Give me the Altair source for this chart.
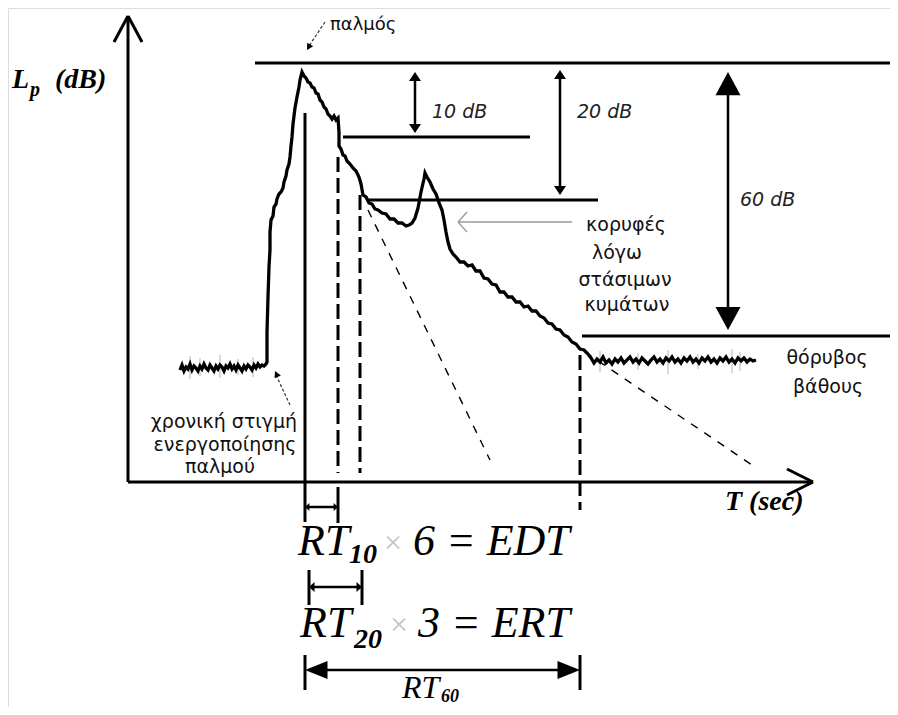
import altair as alt
import pandas as pd

# ---------------- echogram trace (time units from the axes' corner, level units) ----------------
noise_before_time = [52, 54, 56, 58, 60, 62, 64, 66, 68, 70, 72, 74, 76, 78, 80, 82, 84, 86, 88, 90,
                     92, 94, 96, 98, 100, 102, 104, 106, 108, 110, 112, 114, 116, 118, 120, 122, 124,
                     126, 128, 130, 132, 134, 136, 138]
noise_before_level = [112, 117, 111, 115, 113, 118, 112, 116, 114, 111, 116, 113, 118, 114, 112, 117,
                      114, 111, 116, 113, 117, 115, 111, 116, 114, 118, 113, 116, 112, 117, 114, 111,
                      116, 113, 117, 115, 112, 117, 114, 118, 115, 117, 116, 118]
rise_time = [139, 139, 140, 141, 142, 142, 143, 145, 146, 148, 149, 151, 153, 155, 156, 158, 159, 161,
             162, 163, 164, 165, 166, 167, 169, 171, 172, 174]
rise_level = [120, 150, 185, 215, 232, 250, 262, 266, 275, 278, 283, 288, 290, 294, 300, 306, 312, 318,
              325, 336, 345, 358, 366, 374, 385, 395, 402, 410]
decay_time = [176, 178, 180, 182, 184, 186, 188, 190, 192, 194, 196, 198, 200, 202, 204, 206, 208, 210,
              211, 211, 213, 215, 217, 219, 222, 225, 228, 231, 233, 235, 238, 241, 244, 247, 250, 254,
              258, 262, 266, 270, 274, 278, 281, 284, 287, 290, 293, 296, 297, 299, 302, 305, 308, 311,
              314, 316, 318, 320, 322, 325, 328, 332, 336, 340, 344, 348, 352, 356, 360, 364, 368, 372,
              376, 380, 384, 388, 392, 396, 400, 404, 408, 412, 416, 420, 424, 428, 432, 436, 440, 444,
              448, 452, 456, 460]
decay_level = [406, 404, 400, 399, 395, 394, 389, 388, 382, 380, 375, 373, 368, 366, 363, 366, 362, 364,
               350, 336, 333, 327, 326, 321, 318, 314, 311, 305, 298, 287, 285, 279, 278, 273, 272, 269,
               268, 263, 263, 259, 259, 256, 257, 259, 264, 274, 290, 303, 309, 305, 300, 293, 288, 279,
               272, 262, 250, 240, 233, 228, 225, 220, 220, 216, 217, 211, 211, 204, 203, 198, 197, 190,
               190, 185, 185, 180, 180, 175, 176, 171, 171, 166, 164, 159, 158, 153, 152, 147, 145, 140,
               138, 133, 132, 128]
noise_after_time = [463, 466, 469, 472, 475, 478, 481, 484, 487, 490, 493, 496, 499, 502, 505, 508, 511,
                    514, 517, 520, 523, 526, 529, 532, 535, 538, 541, 544, 547, 550, 553, 556, 559, 562,
                    565, 568, 571, 574, 577, 580, 583, 586, 589, 592, 595, 598, 601, 604, 607, 610, 613,
                    616, 619, 622, 625, 628]
noise_after_level = [124, 119, 123, 120, 125, 119, 122, 118, 123, 120, 124, 119, 122, 125, 120, 123, 119,
                     124, 121, 118, 122, 125, 120, 123, 119, 124, 121, 125, 120, 123, 119, 124, 121, 125,
                     120, 123, 119, 124, 121, 125, 120, 123, 119, 124, 121, 125, 120, 123, 119, 124, 121,
                     124, 120, 123, 121, 122]

# gray spikes in the noise
spike_time = [62, 72, 92, 110, 125, 472, 510, 540, 570, 604, 612]
spike_low = [103, 106, 104, 107, 105, 110, 112, 108, 113, 109, 111]
spike_high = [126, 124, 127, 123, 125, 131, 129, 132, 128, 133, 130]

# ---------------- axes and reference lines ----------------
solid_t1 = [0, 0, 0, 0, 685, 685, 127, 215, 240, 454, 177, 210, 181, 234, 177, 452]
solid_L1 = [0, 0, 466, 466, 0, 0, 419, 345, 282, 146, 369, -5, -88, -88, -173, -173]
solid_t2 = [0, 685, -14, 14, 659, 659, 770, 402, 470, 770, 177, 210, 181, 234, 177, 452]
solid_L2 = [466, 0, 440, 440, 13, -13, 419, 345, 282, 146, -40, -41, -123, -123, -208, -208]

# arrow shafts: 10 dB, 20 dB, 60 dB, RT10, RT20, RT60
shaft_t1 = [287, 432, 600, 179, 183, 185]
shaft_L1 = [405, 407, 395, -25, -105, -188]
shaft_t2 = [287, 432, 600, 208, 232, 444]
shaft_L2 = [354, 292, 165, -25, -105, -188]

# dashed verticals (RT10, RT20, RT60 read-off times)
vdash_t1 = [210, 232, 452]
vdash_L1 = [325, 287, 127]
vdash_t2 = [210, 232, 452]
vdash_L2 = [9, 9, -28]

# thin dashed extrapolations of the decay
diag_t1 = [240, 457]
diag_L1 = [272, 130]
diag_t2 = [362, 627]
diag_L2 = [22, 15]

# thin annotation pointers
pointer_t1 = [444, 330, 330, 197, 162]
pointer_L1 = [260, 260, 260, 460, 77]
pointer_t2 = [330, 339, 339, 181, 148]
pointer_L2 = [260, 270, 250, 436, 107]

# ---------------- arrow heads ----------------
head_big_up = ([600], [410])
head_big_down = ([600], [152])
head_small_up = ([287, 432], [410, 412])
head_small_down = ([287, 432], [349, 287])
head_rt10_left = ([177], [-25])
head_rt10_right = ([210], [-25])
head_rt20_left = ([181], [-105])
head_rt20_right = ([234], [-105])
head_rt60_left = ([177], [-188])
head_rt60_right = ([452], [-188])

# ---------------- texts ----------------
axis_title_time = [-116, -73, 597]
axis_title_level = [394, 394, -28]
axis_title_text = ["L", "(dB)", "T (sec)"]

formula_time = [170, 285, 172, 290]
formula_level = [-73, -73, -155, -155]
formula_text = ["RT", "6 = EDT", "RT", "3 = ERT"]

sub_time = [221, 226]
sub_level = [-81, -166]
sub_text = ["10", "20"]

rt60_time = [274]
rt60_level = [-223]
rt60_sub_time = [313]
rt60_sub_level = [-224]

times_time = [265, 271]
times_level = [-71, -153]

db_time = [304, 449, 612]
db_level = [370, 370, 282]
db_text = ["10 dB", "20 dB", "60 dB"]

note_time = [498, 489, 497, 499, 699, 700, 96, 97, 92]
note_level = [257, 229, 202, 177, 124, 95, 60, 37, 15]
note_text = ["κορυφές", "λόγω", "στάσιμων", "κυμάτων", "θόρυβος", "βάθους",
             "χρονική στιγμή", "ενεργοποίησης", "παλμού"]

pulse_time = [202]
pulse_level = [457]
pulse_text = ["παλμός"]

# ---------------- build ----------------
xs = alt.Scale(domain=[-120, 762], nice=False, zero=False)
ys = alt.Scale(domain=[-225, 474], nice=False, zero=False)


def X(f):
    return alt.X(f + ":Q", scale=xs, axis=None)


def Y(f):
    return alt.Y(f + ":Q", scale=ys, axis=None)


def segs(t1, L1, t2, L2, width, color="black", dash=None):
    df = pd.DataFrame({"t1": t1, "L1": L1, "t2": t2, "L2": L2})
    kw = dict(color=color, strokeWidth=width, strokeCap="butt")
    if dash:
        kw["strokeDash"] = dash
    return alt.Chart(df).mark_rule(**kw).encode(
        x=X("t1"), y=Y("L1"), x2="t2:Q", y2="L2:Q")


def heads(pts, path, size, angle=0):
    df = pd.DataFrame({"t": pts[0], "L": pts[1]})
    return alt.Chart(df).mark_point(shape=path, size=size, filled=True, color="black",
                                    opacity=1, angle=angle).encode(x=X("t"), y=Y("L"))


def texts(t, L, s, font, size, style="normal", weight="normal", align="left",
          baseline="alphabetic", color="black"):
    df = pd.DataFrame({"t": t, "L": L, "s": s})
    return alt.Chart(df).mark_text(font=font, fontSize=size, fontStyle=style, fontWeight=weight,
                                   align=align, baseline=baseline, color=color).encode(
        x=X("t"), y=Y("L"), text="s:N")


segments = []
order = 0
for tt, ll in [(noise_before_time, noise_before_level), (rise_time, rise_level),
               (decay_time, decay_level), (noise_after_time, noise_after_level)]:
    for a, b in zip(tt, ll):
        segments.append({"t": a, "L": b, "i": order})
        order += 1
curve_df = pd.DataFrame(segments)

curve = alt.Chart(curve_df).mark_line(color="black", strokeWidth=3.3, strokeJoin="miter").encode(
    x=X("t"), y=Y("L"), order="i:Q")

spikes = segs(spike_time, spike_low, spike_time, spike_high, 1, color="#b5b5b5")

UP = "M0,0L1,1.5L-1,1.5Z"
DOWN = "M0,0L1,-1.5L-1,-1.5Z"
BIG_UP = "M0,0L1,1.85L-1,1.85Z"
BIG_DOWN = "M0,0L1,-1.85L-1,-1.85Z"
LEFT = "M0,0L1.1,-1L1.1,1Z"
RIGHT = "M0,0L-1.1,-1L-1.1,1Z"
BIG_LEFT = "M0,0L2.5,-1L2.5,1Z"
BIG_RIGHT = "M0,0L-2.5,-1L-2.5,1Z"

layers = [
    spikes,
    segs(diag_t1, diag_L1, diag_t2, diag_L2, 1.4, dash=[8, 8]),
    segs(pointer_t1[:3], pointer_L1[:3], pointer_t2[:3], pointer_L2[:3], 1.3, color="#9a9a9a"),
    segs(pointer_t1[3:], pointer_L1[3:], pointer_t2[3:], pointer_L2[3:], 1.2, color="#333333", dash=[3, 2]),
    curve,
    segs(solid_t1, solid_L1, solid_t2, solid_L2, 3),
    segs(shaft_t1, shaft_L1, shaft_t2, shaft_L2, 2.5),
    segs(vdash_t1, vdash_L1, vdash_t2, vdash_L2, 3, dash=[15, 6]),
    heads(head_big_up, BIG_UP, 625),
    heads(head_big_down, BIG_DOWN, 625),
    heads(head_small_up, UP, 144),
    heads(head_small_down, DOWN, 144),
    heads(head_rt10_left, LEFT, 64),
    heads(head_rt10_right, RIGHT, 64),
    heads(head_rt20_left, LEFT, 100),
    heads(head_rt20_right, RIGHT, 100),
    heads(head_rt60_left, BIG_LEFT, 324),
    heads(head_rt60_right, BIG_RIGHT, 324),
    heads(([179], [432]), BIG_DOWN, 49, angle=30),
    heads(([147], [111]), BIG_UP, 49, angle=335),
    texts(axis_title_time, axis_title_level, axis_title_text, "Liberation Serif", 28,
          style="italic", weight="bold"),
    texts([-98], [386], ["p"], "Liberation Serif", 20, style="italic", weight="bold"),
    texts(formula_time, formula_level, formula_text, "Liberation Serif", 44, style="italic"),
    texts(sub_time, sub_level, sub_text, "Liberation Serif", 28, style="italic", weight="bold"),
    texts(rt60_time, rt60_level, ["RT"], "Liberation Serif", 32, style="italic", baseline="bottom"),
    texts(rt60_sub_time, rt60_sub_level, ["60"], "Liberation Serif", 18, style="italic",
          weight="bold", baseline="bottom"),
    texts(times_time, times_level, ["×", "×"], "Liberation Serif", 32, align="center",
          color="#c4c4c4"),
    texts(db_time, db_level, db_text, "DejaVu Sans", 19, style="italic", baseline="middle",
          color="#222222"),
    texts(note_time, note_level, note_text, "DejaVu Sans", 19, align="center", baseline="middle",
          color="#111111"),
    texts(pulse_time, pulse_level, pulse_text, "DejaVu Sans", 18, baseline="middle",
          color="#111111"),
]

chart = alt.layer(*layers).properties(
    width=882, height=699, autosize="none", padding=0
).configure_view(stroke=None).configure(background="white")

chart.save("out.html", embed_options={"renderer": "svg", "actions": False})
